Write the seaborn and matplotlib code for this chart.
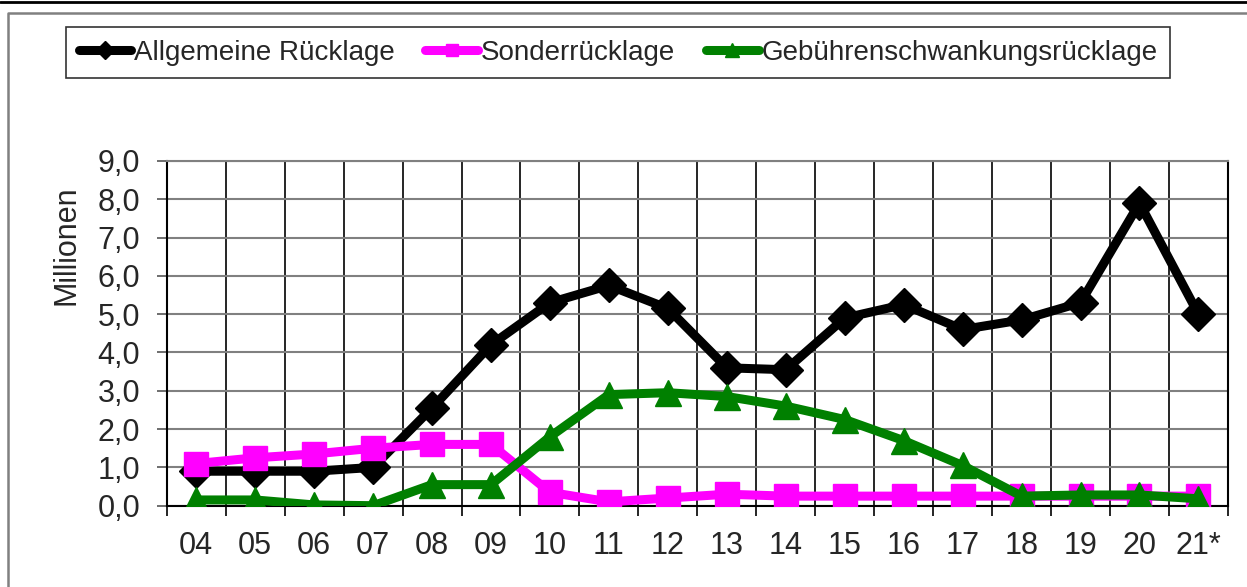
import numpy as np
import matplotlib
matplotlib.use("Agg")
import matplotlib.pyplot as plt
import seaborn as sns
from matplotlib.lines import Line2D
from matplotlib.ticker import FixedLocator

# Werte in Millionen
jahre = ['04', '05', '06', '07', '08', '09', '10', '11', '12',
         '13', '14', '15', '16', '17', '18', '19', '20', '21*']
allgemeine = [0.9, 0.9, 0.9, 1.0, 2.55, 4.2, 5.3, 5.75, 5.15,
              3.6, 3.55, 4.9, 5.25, 4.6, 4.85, 5.3, 7.9, 5.0]
sonder = [1.1, 1.25, 1.35, 1.5, 1.6, 1.6, 0.35, 0.1, 0.2,
          0.3, 0.25, 0.25, 0.25, 0.25, 0.25, 0.25, 0.25, 0.25]
gebuehren = [0.15, 0.15, 0.02, 0.0, 0.55, 0.55, 1.8, 2.9, 2.95,
             2.85, 2.6, 2.25, 1.7, 1.05, 0.25, 0.28, 0.28, 0.18]
y_ticks = [0, 1, 2, 3, 4, 5, 6, 7, 8, 9]

sns.set_style("white")
plt.rcParams['font.family'] = ['Liberation Sans', 'DejaVu Sans']

fig = plt.figure(figsize=(12.47, 5.87), dpi=100)
ax = fig.add_axes([0.1337, 0.1385, 0.851, 0.5873])

pos = np.arange(len(jahre))
sns.lineplot(x=pos, y=allgemeine, color='black', lw=6.5, marker='D', ms=17,
             mec='black', mew=1, label='Allgemeine Rücklage', ax=ax, zorder=3)
sns.lineplot(x=pos, y=sonder, color='#ff00ff', lw=6.5, marker='s', ms=17,
             mec='#ff00ff', mew=1, label='Sonderrücklage', ax=ax, zorder=4)
sns.lineplot(x=pos, y=gebuehren, color='#008000', lw=6.5, marker='^', ms=19,
             mec='#008000', mew=1, label='Gebührenschwankungsrücklage', ax=ax, zorder=5)

ax.set_xlim(-0.5, len(jahre) - 0.5)
ax.set_ylim(0, 9)
ax.set_yticks(y_ticks)
ax.set_yticklabels([f"{v:.1f}".replace('.', ',') for v in y_ticks])
ax.set_xticks(pos)
ax.set_xticklabels(jahre)
ax.xaxis.set_minor_locator(FixedLocator(np.arange(-0.5, len(jahre), 1)))

ax.grid(True, axis='y', which='major', color='#808080', lw=1.5, zorder=1)
ax.grid(True, axis='x', which='minor', color='black', lw=1.2, zorder=1)
ax.grid(False, axis='x', which='major')
ax.set_axisbelow(True)

ax.tick_params(axis='x', which='major', length=0, pad=18, labelsize=22)
ax.tick_params(axis='x', which='minor', length=7, width=1.2, color='black', direction='out', bottom=True)
ax.tick_params(axis='y', length=7, width=1.2, color='#555555', direction='out', left=True,
               pad=12, labelsize=22)
for s in ax.spines.values():
    s.set_color('black')
    s.set_linewidth(1.5)
ax.spines['top'].set_color('#808080')

ax.set_ylabel('Millionen', fontsize=22)
ax.yaxis.set_label_coords(-0.08, 0.757)
ax.set_xlabel('')

ax.get_legend().remove()
handles, labels = ax.get_legend_handles_labels()
leg = fig.legend(handles, labels, loc='upper left', bbox_to_anchor=(66 / 1247, 1 - 27 / 587),
                 ncol=3, frameon=True, fancybox=False, fontsize=20, markerscale=0.55,
                 handlelength=1.9, handletextpad=0.1, columnspacing=1.1,
                 borderpad=0.45, borderaxespad=0, edgecolor='black')
leg.get_frame().set_linewidth(1.2)

# Rahmen um die Grafik
fig.add_artist(Line2D([0, 1], [1 - 2 / 587, 1 - 2 / 587], transform=fig.transFigure,
                      color='black', lw=2))
fig.add_artist(Line2D([8 / 1247, 8 / 1247, 1], [0, 1 - 13 / 587, 1 - 13 / 587],
                      transform=fig.transFigure, color='#808080', lw=1.8))

fig.savefig('out.png', dpi=100)
